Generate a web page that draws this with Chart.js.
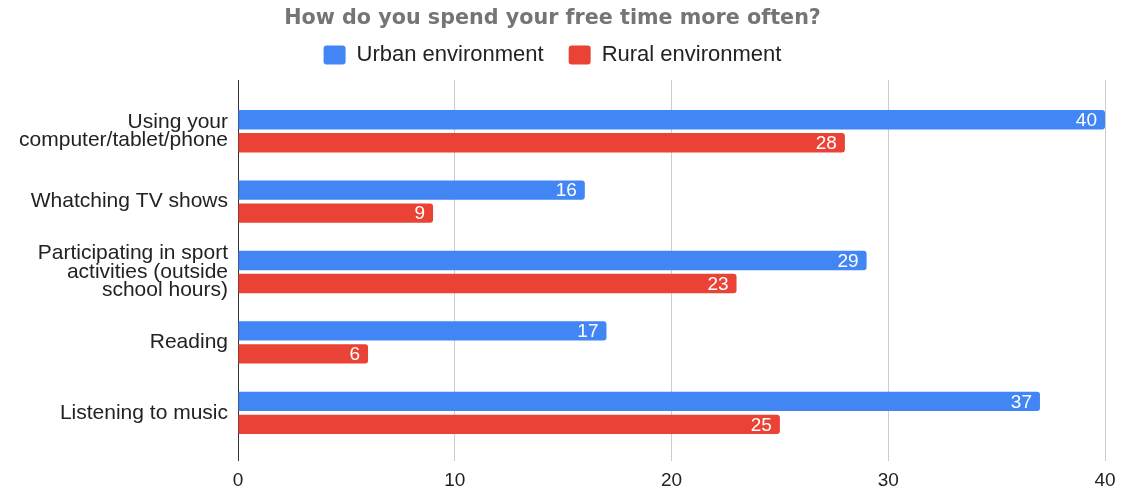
<!DOCTYPE html>
<html>
<head>
<meta charset="utf-8">
<script src="https://cdn.jsdelivr.net/npm/chart.js@4"></script>
<style>
  html, body { margin: 0; padding: 0; background: #fff; }
  #wrap { width: 1126px; height: 489px; }
</style>
</head>
<body>
<div id="wrap"><canvas id="freeTimeChart"></canvas></div>
<script>
// data
const categories = [
    ['Using your', 'computer/tablet/phone'],
    'Whatching TV shows',
    ['Participating in sport', 'activities (outside', 'school hours)'],
    'Reading',
    'Listening to music'
];
const urbanValues = [40, 16, 29, 17, 37];
const ruralValues = [28, 9, 23, 6, 25];
const xTicks = [0, 10, 20, 30, 40];

const seriesNames = ['Urban environment', 'Rural environment'];
const seriesColors = ['#4285F4', '#EA4335'];

const FONT = 'Liberation Sans, Arial, sans-serif';

// grid line at zero is dark, the others light grey
function gridColor(ctx) {
    return ctx.tick && ctx.tick.value === 0 ? '#333333' : '#cccccc';
}

// white value labels at the end of each bar
const barLabels = {
    id: 'barLabels',
    afterDatasetsDraw(chart) {
        const ctx = chart.ctx;
        ctx.save();
        ctx.font = '19px ' + FONT;
        ctx.fillStyle = '#ffffff';
        ctx.textAlign = 'right';
        ctx.textBaseline = 'middle';
        chart.data.datasets.forEach((ds, i) => {
            const meta = chart.getDatasetMeta(i);
            meta.data.forEach((bar, j) => {
                ctx.fillText(ds.data[j], bar.x - 8, bar.y + 1);
            });
        });
        ctx.restore();
    }
};

const data = {
    labels: categories,
    datasets: [
        {
            label: seriesNames[0],
            data: urbanValues,
            backgroundColor: seriesColors[0],
            borderWidth: 0,
            borderRadius: 3,
            borderSkipped: 'start',
            categoryPercentage: 0.653,
            barPercentage: 0.84
        },
        {
            label: seriesNames[1],
            data: ruralValues,
            backgroundColor: seriesColors[1],
            borderWidth: 0,
            borderRadius: 3,
            borderSkipped: 'start',
            categoryPercentage: 0.653,
            barPercentage: 0.84
        }
    ]
};

const options = {
    indexAxis: 'y',
    responsive: true,
    maintainAspectRatio: false,
    animation: false,
    devicePixelRatio: 1,
    layout: { padding: { left: 0, right: 21, top: 0, bottom: 0 } },
    plugins: {
        title: {
            display: true,
            text: 'How do you spend your free time more often?',
            color: '#757575',
            // tiny line height so the title box stays short, text sits at padding.top
            font: { family: 'DejaVu Sans', size: 20.7, weight: 'bold', lineHeight: 0.05 },
            padding: { top: 18, bottom: 0 }
        },
        legend: {
            position: 'top',
            labels: {
                color: '#222222',
                font: { family: FONT, size: 22 },
                boxWidth: 22,
                boxHeight: 19,
                useBorderRadius: true,
                borderRadius: 3,
                padding: 25
            }
        },
        tooltip: { enabled: false }
    },
    scales: {
        x: {
            min: xTicks[0],
            max: xTicks[xTicks.length - 1],
            ticks: {
                stepSize: 10,
                color: '#222222',
                font: { family: FONT, size: 19 },
                padding: 8
            },
            grid: { color: gridColor, tickLength: 13, tickColor: gridColor },
            border: { display: false },
            afterFit(scale) { scale.height = 41; }
        },
        // only draws the grid stubs above the bars
        x2: {
            position: 'top',
            min: xTicks[0],
            max: xTicks[xTicks.length - 1],
            ticks: { stepSize: 10, display: false },
            grid: { drawOnChartArea: false, tickLength: 16, tickColor: gridColor },
            border: { display: false },
            afterFit(scale) { scale.height = 20; }
        },
        y: {
            ticks: {
                color: '#222222',
                font: { family: FONT, size: 21, lineHeight: 0.88 },
                padding: 10
            },
            grid: { display: false, drawTicks: false },
            border: { display: false },
            afterFit(scale) { scale.width = 238; }
        }
    }
};

new Chart(document.getElementById('freeTimeChart'), {
    type: 'bar',
    data: data,
    options: options,
    plugins: [barLabels]
});
</script>
</body>
</html>
